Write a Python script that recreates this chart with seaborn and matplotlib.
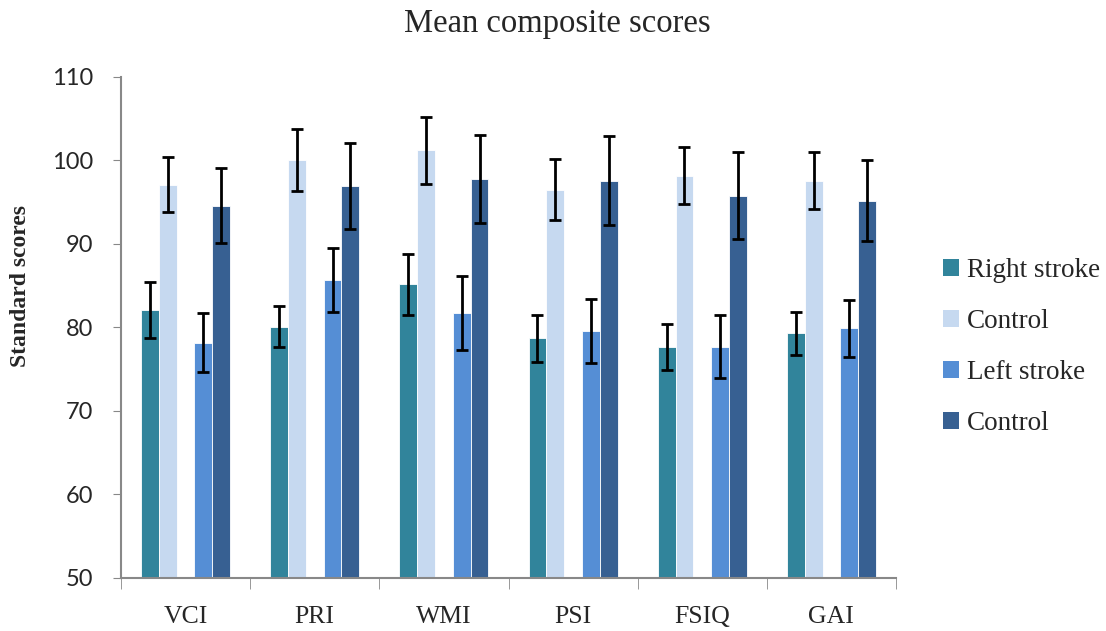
import numpy as np
import pandas as pd
import matplotlib
matplotlib.use("Agg")
import matplotlib.pyplot as plt
from matplotlib.patches import Patch
import seaborn as sns

# ── data ─────────────────────────────────────────────────────────────────────
CATEGORIES = ["VCI", "PRI", "WMI", "PSI", "FSIQ", "GAI"]

right_stroke    = [82.1, 80.1, 85.2, 78.7, 77.7, 79.3]
right_stroke_sd = [3.35, 2.45, 3.65, 2.85, 2.75, 2.55]
control_r       = [97.1, 100.1, 101.2, 96.5, 98.2, 97.6]
control_r_sd    = [3.3, 3.7, 4.05, 3.65, 3.45, 3.4]
left_stroke     = [78.2, 85.7, 81.7, 79.6, 77.7, 79.9]
left_stroke_sd  = [3.5, 3.85, 4.45, 3.85, 3.75, 3.45]
control_l       = [94.6, 97.0, 97.8, 97.6, 95.8, 95.2]
control_l_sd    = [4.45, 5.15, 5.25, 5.3, 5.2, 4.9]

# hue keys (the empty "gap" level keeps a blank slot between the pairs)
HUE_ORDER  = ["right", "control_r", "gap", "left", "control_l"]
HUE_LABELS = {"right": "Right stroke", "control_r": "Control",
              "left": "Left stroke", "control_l": "Control"}
PALETTE    = {"right": "#31849B", "control_r": "#C6D9F0", "gap": "#FFFFFF",
              "left": "#558ED5", "control_l": "#376092"}

SERIES = {
    "right":     (right_stroke, right_stroke_sd),
    "control_r": (control_r, control_r_sd),
    "left":      (left_stroke, left_stroke_sd),
    "control_l": (control_l, control_l_sd),
}

rows = []
for key, (vals, sds) in SERIES.items():
    for cat, v, s in zip(CATEGORIES, vals, sds):
        rows.append({"category": cat, "group": key, "score": v, "sd": s})
df = pd.DataFrame(rows)

# ── figure ───────────────────────────────────────────────────────────────────
sns.set_style("white")
SERIF = ["Liberation Serif", "DejaVu Serif"]
SANS = ["Lato", "DejaVu Sans"]
plt.rcParams["font.family"] = SERIF

fig = plt.figure(figsize=(11.06, 6.31), dpi=100)
ax = fig.add_axes([121 / 1106, 1 - 578 / 631, 775 / 1106, 501 / 631])

BAR_WIDTH = 0.69
sns.barplot(
    data=df, x="category", y="score", hue="group",
    order=CATEGORIES, hue_order=HUE_ORDER, palette=PALETTE,
    width=BAR_WIDTH, errorbar=None, saturation=1,
    edgecolor="white", linewidth=0.6, legend=False, ax=ax,
)

# error bars at the centre of every drawn bar
n_slots = len(HUE_ORDER)
slot_w = BAR_WIDTH / n_slots
sd_lookup = {(r.category, r.group): r.sd for r in df.itertuples()}
for patch in ax.patches:
    h = patch.get_height()
    if not np.isfinite(h) or h == 0:
        continue
    xc = patch.get_x() + patch.get_width() / 2
    cat_idx = int(round(xc))
    slot = int(round((xc - cat_idx) / slot_w + (n_slots - 1) / 2))
    key = HUE_ORDER[slot]
    sd = sd_lookup[(CATEGORIES[cat_idx], key)]
    ax.errorbar(xc, h, yerr=sd, color="black", linewidth=2,
                capsize=4.5, capthick=2, zorder=5)

ax.set_ylim(50, 110)
ax.set_xlim(-0.5, len(CATEGORIES) - 0.5)
ax.set_yticks(np.arange(50, 111, 10))
for lab in ax.get_yticklabels():
    lab.set_fontfamily(SANS)
ax.tick_params(axis="y", labelsize=17, length=6, color="#888888",
               direction="out", left=True, pad=14)
ax.tick_params(axis="x", which="major", length=0, labelsize=18.5, pad=20)
ax.set_xticks(np.arange(-0.5, len(CATEGORIES)), minor=True)
ax.tick_params(axis="x", which="minor", length=8, color="#888888",
               direction="out", bottom=True)

for side in ["top", "right"]:
    ax.spines[side].set_visible(False)
for side in ["left", "bottom"]:
    ax.spines[side].set_color("#888888")
    ax.spines[side].set_linewidth(1.5)

ax.set_xlabel("")
ax.set_ylabel("Standard scores", fontsize=17, fontweight="bold")
ax.yaxis.set_label_coords(-0.116, 0.583)

fig.text(0.504, 0.962, "Mean composite scores", ha="center", va="center",
         fontsize=23.5)

handles = [Patch(facecolor=PALETTE[k], edgecolor="none", label=HUE_LABELS[k])
           for k in HUE_ORDER if k != "gap"]
fig.legend(handles=handles, loc="center left",
           bbox_to_anchor=(0.8526, 0.45), frameon=False, fontsize=19.5,
           borderpad=0, borderaxespad=0,
           handlelength=0.6, handleheight=0.6, handletextpad=0.3,
           labelspacing=0.96)

fig.savefig("out.png", dpi=100)
